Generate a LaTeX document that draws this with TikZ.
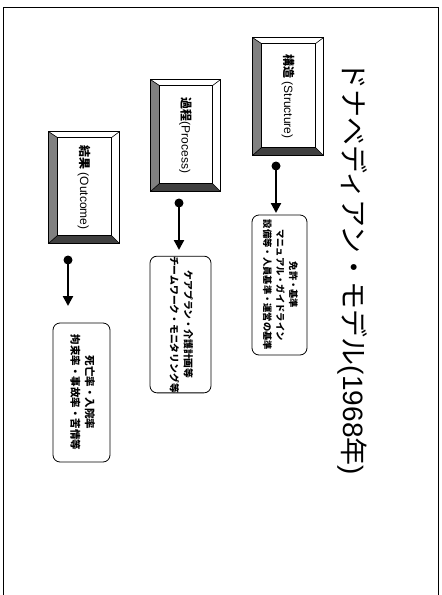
\documentclass[tikz,border=0pt]{standalone}
\usepackage{fontspec}
\setmainfont{Noto Sans CJK JP}
\newfontfamily\lat{Liberation Sans}
\usetikzlibrary{arrows.meta}
\tikzset{
  bev/.style={minimum width=70pt, minimum height=114pt, inner sep=0pt, font=\fontsize{12}{14}\selectfont},
  rbox/.style={draw, rounded corners=7pt, line width=0.8pt, inner sep=0pt},
  conn/.style={line width=2.2pt, -{Triangle[length=10pt,width=10pt]}},
  frame/.style={line width=0.8pt},
}
\newcommand\drawbevel[1]{%
  \path (#1.north west) coordinate (#1-oNW)
        (#1.north east) coordinate (#1-oNE)
        (#1.south west) coordinate (#1-oSW)
        (#1.south east) coordinate (#1-oSE)
        ([xshift=9pt,yshift=-6pt]#1.north west) coordinate (#1-iNW)
        ([xshift=-8pt,yshift=-6pt]#1.north east) coordinate (#1-iNE)
        ([xshift=9pt,yshift=8pt]#1.south west) coordinate (#1-iSW)
        ([xshift=-8pt,yshift=8pt]#1.south east) coordinate (#1-iSE);
  \fill[black!50] (#1-oNW) -- (#1-oSW) -- (#1-iSW) -- (#1-iNW) -- cycle;
  \fill[black!75] (#1-oSW) -- (#1-oSE) -- (#1-iSE) -- (#1-iSW) -- cycle;
  \draw[line width=0.8pt] (#1-oNW) rectangle (#1-oSE);
  \draw[line width=0.8pt] (#1-iNW) rectangle (#1-iSE);
  \draw[line width=0.6pt] (#1-oNW) -- (#1-iNW) (#1-oNE) -- (#1-iNE)
     (#1-oSW) -- (#1-iSW) (#1-oSE) -- (#1-iSE);
}
\begin{document}
\begin{tikzpicture}[x=1pt,y=-1pt]
\useasboundingbox (0,0) rectangle (442,595);
% frame
\coordinate (fa) at (3,595);
\coordinate (fb) at (3,7);
\coordinate (fc) at (438,7);
\coordinate (fd) at (438,595);
\draw[frame] (fa) -- (fb) -- (fc) -- (fd);
% title
\node[rotate=-90, font=\fontsize{28}{30}\selectfont] (title) at (353,268) {ドナベディアン・モデル{\lat(1968}年{\lat)}};
% bevel boxes
\node[bev, minimum height=117pt] (s1) at (288,96.5) {};
\drawbevel{s1}
\node at (s1) {\rotatebox{-90}{\fontsize{12}{14}\selectfont\textbf{構造}{\lat\ (Structure)}}};
\node[bev, minimum width=69pt, minimum height=111pt] (s2) at (185.5,135.5) {};
\drawbevel{s2}
\node at (s2) {\rotatebox{-90}{\fontsize{12}{14}\selectfont\textbf{過程}{\lat(Process)}}};
\node[bev, minimum height=111pt] (s3) at (84,187.5) {};
\drawbevel{s3}
\node at (s3) {\rotatebox{-90}{\fontsize{12}{14}\selectfont\textbf{結果}{\lat\ (Outcome)}}};
% rounded boxes
\node[rbox, minimum width=55pt, minimum height=140pt] (r1) at (279.5,285)
  {\rotatebox{-90}{\fontsize{9.3}{13}\selectfont\bfseries\begin{tabular}{@{}c@{}}免許・基準\\マニュアル・ガイドライン\\設備等・人員基準・運営の基準\end{tabular}}};
\node[rbox, minimum width=61pt, minimum height=135pt] (r2) at (180.5,324.5)
  {\rotatebox{-90}{\fontsize{9.8}{14}\selectfont\bfseries\begin{tabular}{@{}c@{}}ケアプラン・介護計画等\\チームワーク・モニタリング等\end{tabular}}};
\node[rbox, minimum width=57pt, minimum height=139pt] (r3) at (81.5,392.5)
  {\rotatebox{-90}{\fontsize{10.5}{14.5}\selectfont\bfseries\begin{tabular}{@{}c@{}}死亡率・入院率\\拘束率・事故率・苦情等\end{tabular}}};
% connectors
\coordinate (d1) at (276,166); \coordinate (t1) at (276,213);
\coordinate (d2) at (179,203); \coordinate (t2) at (179,250);
\coordinate (d3) at (68,260);  \coordinate (t3) at (68,306);
\fill (d1) circle (4.5pt); \draw[conn] (d1) -- (t1);
\fill (d2) circle (4.5pt); \draw[conn] (d2) -- (t2);
\fill (d3) circle (4.5pt); \draw[conn] (d3) -- (t3);
\end{tikzpicture}
\end{document}
